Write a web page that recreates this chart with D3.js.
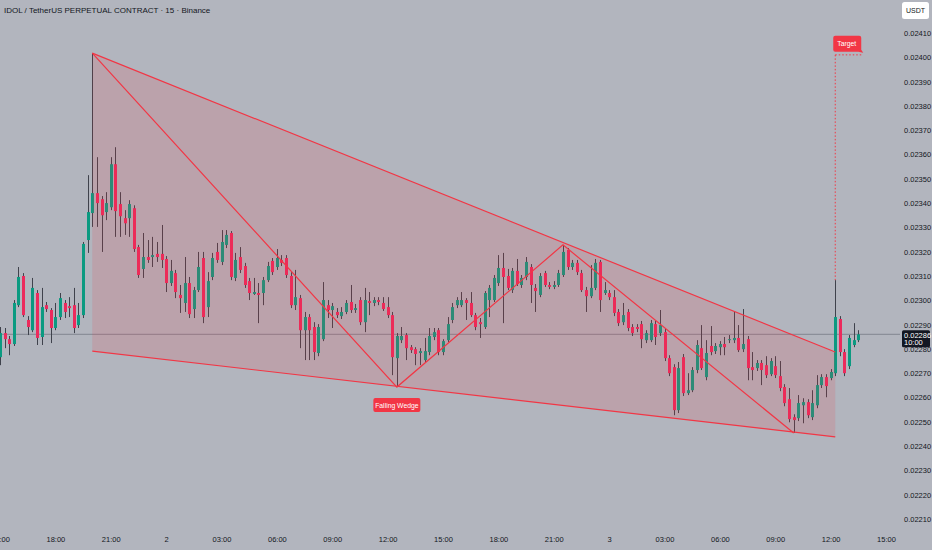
<!DOCTYPE html>
<html>
<head>
<meta charset="utf-8">
<script src="https://cdn.jsdelivr.net/npm/d3@7"></script>
<style>
  html, body { margin: 0; padding: 0; background: #b2b5be; }
  svg { display: block; font-family: "Liberation Sans Narrow", "Liberation Sans", Arial, sans-serif; }
</style>
</head>
<body>
<svg id="chart" width="932" height="550"></svg>
<script>
// 15-minute bars, first visible bar opens at 15:00 on day 1
const startTime = new Date(2025, 6, 1, 15, 0);
const barMinutes = 15;

const opens = [
  0.022766, 0.022865, 0.022840, 0.022820, 0.022980, 0.023100, 0.022919, 0.022877, 0.023030, 0.022849,
  0.022980, 0.022960, 0.022886, 0.022931, 0.022989, 0.022976, 0.022980, 0.022898, 0.022939, 0.023248,
  0.023359, 0.023441, 0.023416, 0.023363, 0.023383, 0.023560, 0.023396, 0.023338, 0.023338, 0.023379,
  0.023219, 0.023129, 0.023178, 0.023178, 0.023191, 0.023191, 0.023170, 0.023071, 0.023112, 0.023022,
  0.022989, 0.023071, 0.022964, 0.023042, 0.023174, 0.022972, 0.023096, 0.023199, 0.023158, 0.023228,
  0.023277, 0.023092, 0.023178, 0.023141, 0.023079, 0.023026, 0.023030, 0.023030, 0.023083, 0.023162,
  0.023137, 0.023166, 0.023174, 0.023100, 0.022980, 0.023009, 0.022877, 0.022931, 0.022890, 0.022783,
  0.022840, 0.022980, 0.022960, 0.022952, 0.022935, 0.022952, 0.022993, 0.022960, 0.023001, 0.022910,
  0.022997, 0.022989, 0.023001, 0.022989, 0.022972, 0.022939, 0.022762, 0.022836, 0.022857, 0.022807,
  0.022799, 0.022783, 0.022754, 0.022787, 0.022849, 0.022877, 0.022787, 0.022836, 0.022919, 0.022980,
  0.022980, 0.023001, 0.022989, 0.022939, 0.022910, 0.022890, 0.023001, 0.023001, 0.023071, 0.023133,
  0.023100, 0.023042, 0.023121, 0.023063, 0.023096, 0.023137, 0.023051, 0.023022, 0.023112, 0.023063,
  0.023055, 0.023063, 0.023104, 0.023207, 0.023137, 0.023154, 0.023112, 0.023042, 0.023017, 0.023051,
  0.023158, 0.023030, 0.023030, 0.023013, 0.022952, 0.022910, 0.022952, 0.022890, 0.022890, 0.022902,
  0.022836, 0.022836, 0.022902, 0.022865, 0.022869, 0.022762, 0.022725, 0.022548, 0.022766, 0.022618,
  0.022630, 0.022713, 0.022803, 0.022684, 0.022812, 0.022791, 0.022807, 0.022820, 0.022836, 0.022836,
  0.022845, 0.022799, 0.022840, 0.022725, 0.022721, 0.022742, 0.022733, 0.022696, 0.022729, 0.022688,
  0.022643, 0.022593, 0.022519, 0.022515, 0.022568, 0.022581, 0.022519, 0.022568, 0.022651, 0.022684,
  0.022680, 0.022700, 0.022923, 0.022787, 0.022729, 0.022816, 0.022836
];

const closes = [
  0.022865, 0.022840, 0.022820, 0.022989, 0.023096, 0.022939, 0.022890, 0.023051, 0.022845, 0.022972,
  0.022964, 0.022886, 0.022931, 0.023009, 0.022952, 0.022968, 0.022886, 0.022939, 0.023232, 0.023363,
  0.023441, 0.023400, 0.023350, 0.023400, 0.023560, 0.023367, 0.023346, 0.023317, 0.023396, 0.023211,
  0.023104, 0.023178, 0.023166, 0.023186, 0.023178, 0.023166, 0.023071, 0.023121, 0.023034, 0.023009,
  0.023071, 0.022943, 0.023042, 0.023137, 0.022931, 0.023079, 0.023174, 0.023166, 0.023240, 0.023269,
  0.023096, 0.023166, 0.023125, 0.023063, 0.023030, 0.023034, 0.023022, 0.023083, 0.023141, 0.023116,
  0.023174, 0.023154, 0.023104, 0.022980, 0.023013, 0.022877, 0.022931, 0.022877, 0.022787, 0.022890,
  0.023001, 0.022960, 0.022976, 0.022939, 0.022952, 0.022989, 0.022960, 0.022968, 0.022910, 0.023001,
  0.022989, 0.023001, 0.022993, 0.022964, 0.022939, 0.022766, 0.022853, 0.022853, 0.022803, 0.022795,
  0.022779, 0.022791, 0.022791, 0.022853, 0.022869, 0.022787, 0.022832, 0.022902, 0.022972, 0.023001,
  0.023001, 0.022989, 0.022939, 0.022890, 0.022902, 0.023030, 0.023051, 0.023092, 0.023133, 0.023096,
  0.023051, 0.023121, 0.023067, 0.023092, 0.023158, 0.023063, 0.023038, 0.023100, 0.023063, 0.023055,
  0.023063, 0.023112, 0.023199, 0.023137, 0.023154, 0.023116, 0.023042, 0.023017, 0.023051, 0.023154,
  0.023001, 0.023042, 0.023013, 0.022948, 0.022906, 0.022939, 0.022886, 0.022865, 0.022882, 0.022840,
  0.022865, 0.022906, 0.022849, 0.022898, 0.022762, 0.022700, 0.022548, 0.022721, 0.022618, 0.022630,
  0.022713, 0.022816, 0.022721, 0.022783, 0.022787, 0.022812, 0.022820, 0.022807, 0.022840, 0.022845,
  0.022795, 0.022820, 0.022721, 0.022713, 0.022742, 0.022713, 0.022692, 0.022750, 0.022692, 0.022639,
  0.022577, 0.022511, 0.022507, 0.022577, 0.022581, 0.022527, 0.022577, 0.022651, 0.022684, 0.022647,
  0.022705, 0.022931, 0.022787, 0.022700, 0.022845, 0.022836, 0.022860
];

const highs = [
  0.022890, 0.022886, 0.022853, 0.023001, 0.023137, 0.023112, 0.022935, 0.023092, 0.023042, 0.023051,
  0.022993, 0.022968, 0.022989, 0.023030, 0.023001, 0.023013, 0.023051, 0.022989, 0.023240, 0.023515,
  0.024017, 0.023589, 0.023429, 0.023445, 0.023589, 0.023630, 0.023445, 0.023371, 0.023412, 0.023391,
  0.023228, 0.023277, 0.023248, 0.023261, 0.023240, 0.023310, 0.023182, 0.023166, 0.023125, 0.023063,
  0.023178, 0.023096, 0.023055, 0.023199, 0.023199, 0.023116, 0.023195, 0.023236, 0.023289, 0.023289,
  0.023285, 0.023195, 0.023219, 0.023154, 0.023092, 0.023092, 0.023071, 0.023096, 0.023158, 0.023174,
  0.023211, 0.023186, 0.023186, 0.023116, 0.023125, 0.023022, 0.022952, 0.022943, 0.022910, 0.022902,
  0.023075, 0.023001, 0.022989, 0.022968, 0.022972, 0.023001, 0.023063, 0.022985, 0.023013, 0.023051,
  0.023034, 0.023013, 0.023013, 0.023013, 0.023013, 0.022952, 0.022865, 0.022890, 0.022865, 0.022816,
  0.022807, 0.022803, 0.022845, 0.022886, 0.022886, 0.022886, 0.022840, 0.022931, 0.022989, 0.023013,
  0.023034, 0.023009, 0.023034, 0.022948, 0.022927, 0.023038, 0.023063, 0.023104, 0.023186, 0.023195,
  0.023129, 0.023133, 0.023170, 0.023104, 0.023178, 0.023149, 0.023067, 0.023112, 0.023121, 0.023075,
  0.023079, 0.023125, 0.023228, 0.023215, 0.023166, 0.023166, 0.023125, 0.023055, 0.023145, 0.023170,
  0.023166, 0.023075, 0.023042, 0.023042, 0.022964, 0.022989, 0.022964, 0.022902, 0.022902, 0.022915,
  0.022877, 0.022919, 0.022915, 0.022960, 0.022882, 0.022774, 0.022737, 0.022746, 0.022779, 0.022700,
  0.022725, 0.022836, 0.022898, 0.022836, 0.022894, 0.022824, 0.022832, 0.022849, 0.022857, 0.022952,
  0.022898, 0.022964, 0.022853, 0.022787, 0.022754, 0.022754, 0.022770, 0.022762, 0.022770, 0.022750,
  0.022655, 0.022639, 0.022531, 0.022610, 0.022597, 0.022593, 0.022630, 0.022692, 0.022696, 0.022696,
  0.022717, 0.023083, 0.022935, 0.022799, 0.022857, 0.022906, 0.022877
];

const lows = [
  0.022733, 0.022803, 0.022774, 0.022812, 0.022972, 0.022931, 0.022857, 0.022869, 0.022816, 0.022816,
  0.022952, 0.022824, 0.022877, 0.022919, 0.022927, 0.022931, 0.022865, 0.022886, 0.022927, 0.023195,
  0.023302, 0.023302, 0.023199, 0.023330, 0.023371, 0.023261, 0.023261, 0.023269, 0.023261, 0.023199,
  0.023092, 0.023092, 0.023154, 0.023137, 0.023158, 0.023133, 0.023034, 0.023059, 0.023009, 0.022948,
  0.022952, 0.022927, 0.022927, 0.023034, 0.022906, 0.022931, 0.023083, 0.023154, 0.023145, 0.023215,
  0.023083, 0.023079, 0.023112, 0.023051, 0.023001, 0.023022, 0.022906, 0.022980, 0.023075, 0.023104,
  0.023125, 0.023141, 0.023092, 0.022968, 0.022960, 0.022803, 0.022754, 0.022754, 0.022754, 0.022770,
  0.022832, 0.022927, 0.022886, 0.022927, 0.022923, 0.022943, 0.022948, 0.022948, 0.022898, 0.022869,
  0.022939, 0.022976, 0.022980, 0.022956, 0.022927, 0.022692, 0.022643, 0.022824, 0.022754, 0.022783,
  0.022733, 0.022733, 0.022746, 0.022774, 0.022836, 0.022774, 0.022774, 0.022828, 0.022906, 0.022968,
  0.022972, 0.022919, 0.022931, 0.022877, 0.022845, 0.022882, 0.022931, 0.022993, 0.023059, 0.022906,
  0.023042, 0.023030, 0.023059, 0.023051, 0.023083, 0.022989, 0.022952, 0.023013, 0.023055, 0.023046,
  0.023046, 0.023055, 0.023096, 0.023125, 0.023125, 0.023104, 0.023034, 0.022952, 0.023009, 0.023042,
  0.022952, 0.023022, 0.023001, 0.022935, 0.022894, 0.022898, 0.022873, 0.022853, 0.022869, 0.022803,
  0.022824, 0.022828, 0.022816, 0.022853, 0.022750, 0.022688, 0.022527, 0.022536, 0.022606, 0.022610,
  0.022622, 0.022700, 0.022713, 0.022671, 0.022774, 0.022779, 0.022774, 0.022774, 0.022824, 0.022824,
  0.022787, 0.022787, 0.022671, 0.022671, 0.022709, 0.022651, 0.022680, 0.022688, 0.022680, 0.022626,
  0.022564, 0.022498, 0.022454, 0.022503, 0.022494, 0.022515, 0.022507, 0.022556, 0.022639, 0.022601,
  0.022671, 0.022688, 0.022770, 0.022688, 0.022717, 0.022807, 0.022828
];

const priceTicks = [0.02210, 0.02220, 0.02230, 0.02240, 0.02250, 0.02260, 0.02270, 0.02280, 0.02290,
  0.02300, 0.02310, 0.02320, 0.02330, 0.02340, 0.02350, 0.02360, 0.02370, 0.02380, 0.02390, 0.02400, 0.02410];

// drawing anchors: [bar index, price]
const wedgeUpper = [[20, 0.024017], [181, 0.022787]];
const wedgeLower = [[20, 0.022791], [181, 0.022438]];
const zigzag = [[20, 0.024017], [86, 0.022643], [122, 0.023228], [172, 0.022454]];
const target = [181, 0.024010];
const lastPrice = 0.02286;
const countdown = "10:00";
const title = "IDOL / TetherUS PERPETUAL CONTRACT · 15 · Binance";

const green = "#0b9a81", red = "#ec2a5c", wedgeRed = "#f23645", textCol = "#131722";

const svg = d3.select("#chart");
const barTime = i => new Date(+startTime + i * barMinutes * 60000);

const x = d3.scaleTime()
    .domain([startTime, barTime(192)])
    .range([0, 886]);
const y = d3.scaleLinear()
    .domain([0.02210, 0.02410])
    .range([519, 33]);

const px = i => x(barTime(i));
const pt = d => [px(d[0]), y(d[1])];

svg.append("rect").attr("width", 932).attr("height", 550).attr("fill", "#b2b5be");

// last price line
svg.append("line")
    .attr("x1", 0).attr("x2", 900)
    .attr("y1", y(lastPrice)).attr("y2", y(lastPrice))
    .attr("stroke", "#5d606b").attr("stroke-opacity", 0.55).attr("stroke-width", 1);

// candles
const bars = d3.range(opens.length);
const candles = svg.append("g").attr("class", "candles");

candles.selectAll(".wick")
    .data(bars)
    .join("line")
    .attr("class", "wick")
    .attr("x1", i => Math.round(px(i)) + 0.5)
    .attr("x2", i => Math.round(px(i)) + 0.5)
    .attr("y1", i => y(highs[i]))
    .attr("y2", i => y(lows[i]))
    .attr("stroke", "#3f424c")
    .attr("stroke-width", 1);

candles.selectAll(".body")
    .data(bars)
    .join("rect")
    .attr("class", "body")
    .attr("x", i => Math.round(px(i)) - 1)
    .attr("width", 3)
    .attr("y", i => y(Math.max(opens[i], closes[i])))
    .attr("height", i => Math.max(1, Math.abs(y(opens[i]) - y(closes[i]))))
    .attr("fill", i => closes[i] >= opens[i] ? green : red);

// wedge fill + lines
const fillPts = [pt(wedgeUpper[0]), pt(wedgeUpper[1]), pt(wedgeLower[1]), pt(wedgeLower[0])];
svg.append("path")
    .attr("d", d3.line()(fillPts) + "Z")
    .attr("fill", wedgeRed)
    .attr("fill-opacity", 0.15);

const line = d3.line().x(d => px(d[0])).y(d => y(d[1]));
[wedgeUpper, wedgeLower, zigzag].forEach(pts => {
    svg.append("path")
        .attr("d", line(pts))
        .attr("fill", "none")
        .attr("stroke", wedgeRed)
        .attr("stroke-width", 1.2);
});

// target projection
const tx = px(target[0]), ty = y(target[1]);
svg.append("line")
    .attr("x1", tx).attr("x2", tx)
    .attr("y1", ty).attr("y2", y(highs[target[0]]))
    .attr("stroke", wedgeRed).attr("stroke-width", 1)
    .attr("stroke-dasharray", "1.5,2");
svg.append("line")
    .attr("x1", tx).attr("x2", tx + 26)
    .attr("y1", ty).attr("y2", ty)
    .attr("stroke", wedgeRed).attr("stroke-width", 1)
    .attr("stroke-dasharray", "1.5,2");

const flag = svg.append("g").attr("transform", `translate(${tx - 2},${ty - 19})`);
flag.append("path")
    .attr("d", "M2,0 H26 Q28,0 28,2 V14 L30,17 L25,16 H2 Q0,16 0,14 V2 Q0,0 2,0 Z")
    .attr("fill", wedgeRed);
flag.append("text")
    .attr("x", 13.5).attr("y", 10.5)
    .attr("text-anchor", "middle")
    .attr("font-size", 6.8)
    .attr("fill", "#ffffff")
    .text("Target");

// pattern label under the first low pivot
const lx = px(zigzag[1][0]), ly = y(zigzag[1][1]);
svg.append("rect")
    .attr("x", lx - 23.5).attr("y", ly + 11)
    .attr("width", 47).attr("height", 14)
    .attr("rx", 2)
    .attr("fill", wedgeRed);
svg.append("text")
    .attr("x", lx).attr("y", ly + 20.5)
    .attr("text-anchor", "middle")
    .attr("font-size", 6.8)
    .attr("fill", "#ffffff")
    .text("Falling Wedge");

// time axis
const timeFmt = d => d.getHours() === 0 ? d3.timeFormat("%-d")(d) : d3.timeFormat("%H:%M")(d);
const xAxis = svg.append("g")
    .attr("transform", "translate(0,537)")
    .call(d3.axisBottom(x).ticks(d3.timeHour.every(3)).tickFormat(timeFmt).tickSize(0));
xAxis.select(".domain").remove();
xAxis.selectAll("text")
    .attr("font-size", 7.5)
    .attr("fill", textCol)
    .attr("font-family", null)
    .attr("dy", "0.3em");

// price axis
const yAxis = svg.append("g")
    .attr("transform", "translate(904,0)")
    .call(d3.axisRight(y).tickValues(priceTicks).tickFormat(d3.format(".5f")).tickSize(0).tickPadding(0));
yAxis.select(".domain").remove();
yAxis.selectAll("text")
    .attr("font-size", 7.5)
    .attr("fill", textCol)
    .attr("font-family", null);

// last price tag
const tagY = y(lastPrice);
svg.append("rect")
    .attr("x", 902).attr("y", tagY - 4).attr("width", 28).attr("height", 17)
    .attr("rx", 1.5)
    .attr("fill", "#131722");
svg.append("text")
    .attr("x", 904).attr("y", tagY + 3.5)
    .attr("font-size", 7.5).attr("fill", "#ffffff")
    .text(d3.format(".5f")(lastPrice));
svg.append("text")
    .attr("x", 904).attr("y", tagY + 11)
    .attr("font-size", 7.5).attr("fill", "#ffffff")
    .text(countdown);

// currency badge
svg.append("rect")
    .attr("x", 902).attr("y", 2).attr("width", 27).attr("height", 17)
    .attr("rx", 2.5)
    .attr("fill", "#ffffff");
svg.append("text")
    .attr("x", 915.5).attr("y", 13)
    .attr("text-anchor", "middle")
    .attr("font-size", 7)
    .attr("fill", textCol)
    .text("USDT");

// header
svg.append("text")
    .attr("x", 4).attr("y", 12.5)
    .attr("font-size", 8)
    .attr("fill", textCol)
    .text(title);
</script>
</body>
</html>
